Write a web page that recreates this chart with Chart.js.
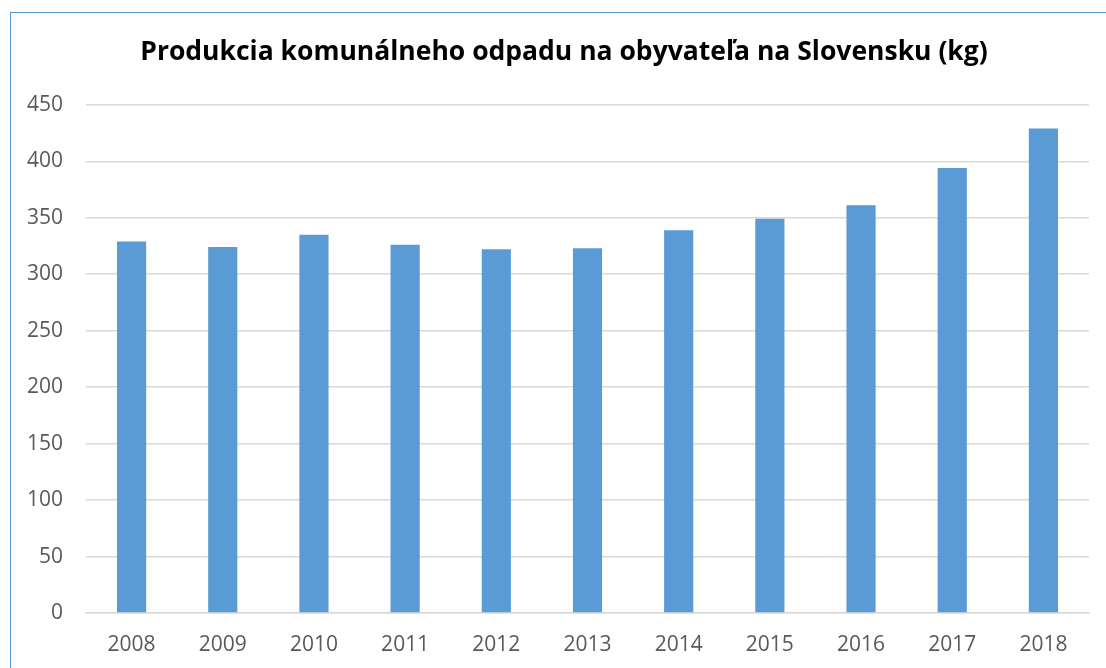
<!DOCTYPE html>
<html>
<head>
<meta charset="utf-8">
<script src="https://cdn.jsdelivr.net/npm/chart.js@4/dist/chart.umd.min.js"></script>
<style>
    body { margin: 0; overflow: hidden; background: #fff; }
    #ram { position: absolute; left: 10px; top: 12px; width: 1200px; height: 800px; border: 1px solid #5b9bd5; box-sizing: border-box; }
    #obal { position: absolute; left: 0; top: 0; width: 1106px; height: 668px; }
</style>
</head>
<body>
<div id="ram"></div>
<div id="obal"><canvas id="graf"></canvas></div>
<script>
// roky a produkcia odpadu (kg na obyvateľa)
var roky = ['2008', '2009', '2010', '2011', '2012', '2013', '2014', '2015', '2016', '2017', '2018'];
var odpad = [329, 324, 335, 326, 322, 323, 339, 349, 361, 394, 429];
var nadpis = 'Produkcia komunálneho odpadu na obyvateľa na Slovensku (kg)';

window.onload = function () {
    new Chart(document.getElementById("graf"), {
        type: 'bar',
        data: {
            labels: roky,
            datasets: [{
                data: odpad,
                backgroundColor: '#5b9bd5',
                barPercentage: 0.32,
                categoryPercentage: 1
            }]
        },
        options: {
            responsive: true,
            maintainAspectRatio: false,
            animation: false,
            layout: { padding: { left: 20, right: 17, top: 0, bottom: 0 } },
            plugins: {
                legend: { display: false },
                tooltip: { enabled: false },
                title: {
                    display: true,
                    text: nadpis,
                    color: '#000',
                    font: { family: 'Open Sans', size: 26.5, weight: 'bold' },
                    padding: { top: 37, bottom: 36 }
                }
            },
            scales: {
                x: {
                    grid: { display: false },
                    border: { display: true, color: '#d9d9d9', width: 1.5 },
                    ticks: { color: '#595959', font: { family: 'Open Sans', size: 21 }, padding: 11 },
                    afterFit: function (s) { s.height = 55; }
                },
                y: {
                    min: 0,
                    max: 450,
                    ticks: { stepSize: 50, color: '#595959', font: { family: 'Open Sans', size: 21 }, padding: 23 },
                    grid: { color: '#d9d9d9', lineWidth: 1.5, drawTicks: false },
                    border: { display: false },
                    afterFit: function (s) { s.width = 66; }
                }
            }
        },
        plugins: [{
            // nadpis je v origináli trochu posunutý doprava
            id: 'posunNadpis',
            afterLayout: function (ch) { if (ch.titleBlock) ch.titleBlock.left += 19; }
        }]
    });
};
</script>
</body>
</html>
